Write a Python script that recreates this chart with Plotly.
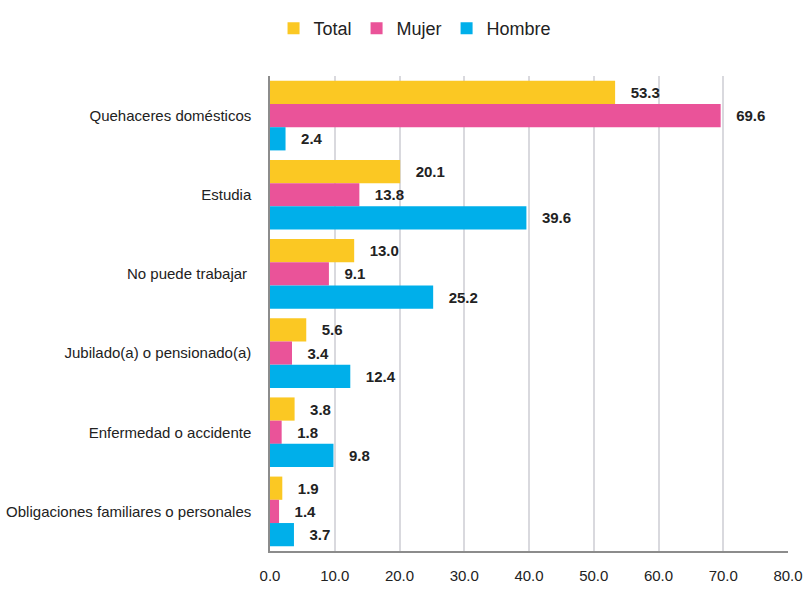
import plotly.graph_objects as go

categories = ["Quehaceres domésticos", "Estudia", "No puede trabajar ",
              "Jubilado(a) o pensionado(a)", "Enfermedad o accidente",
              "Obligaciones familiares o personales"]
total = [53.3, 20.1, 13.0, 5.6, 3.8, 1.9]
mujer = [69.6, 13.8, 9.1, 3.4, 1.8, 1.4]
hombre = [2.4, 39.6, 25.2, 12.4, 9.8, 3.7]
x_ticks = [0, 10, 20, 30, 40, 50, 60, 70, 80]

FONT = "Liberation Sans Narrow, Arial Narrow, Liberation Sans, Arial, sans-serif"
series = [("Total", total, "#FBC823"), ("Mujer", mujer, "#EA5399"), ("Hombre", hombre, "#00AFEA")]

fig = go.Figure()
for name, vals, col in series:
    fig.add_trace(go.Bar(
        y=categories, x=vals, name=name, orientation="h",
        marker=dict(color=col, line=dict(width=0)),
        text=[f"{v:.1f}" for v in vals],
        texttemplate="   %{text}",
        textposition="outside", cliponaxis=False,
        textfont=dict(family=FONT, size=15, color="#222222", weight="bold"),
    ))

fig.update_layout(
    width=807, height=589,
    margin=dict(l=270, r=19, t=76, b=38, autoexpand=False),
    barmode="group", bargap=0.12, bargroupgap=0.0,
    plot_bgcolor="white", paper_bgcolor="white",
    font=dict(family=FONT, size=15, color="#222222"),
    legend=dict(orientation="h", x=0.28, xanchor="center",
                y=1.10, yanchor="middle",
                font=dict(family=FONT, size=18, color="#222222"),
                itemwidth=30, traceorder="normal"),
    xaxis=dict(range=[0, 80], tickvals=x_ticks, ticktext=[f"{t:.1f}" for t in x_ticks],
               showgrid=True, gridcolor="#D9D9DE", gridwidth=1.5,
               showline=True, linecolor="#8C8C8C", linewidth=1.5,
               zeroline=False, ticks="", ticklabelstandoff=10, automargin=False,
               tickfont=dict(family=FONT, size=15, color="#222222")),
    yaxis=dict(autorange="reversed", showline=True, linecolor="#8C8C8C", linewidth=1.5,
               ticks="", ticklabelstandoff=14, automargin=False,
               tickfont=dict(family=FONT, size=15, color="#222222")),
)

fig.write_html("out.html", config={"displayModeBar": False},
               post_script="document.body.style.margin='0';document.body.style.overflow='hidden';")
